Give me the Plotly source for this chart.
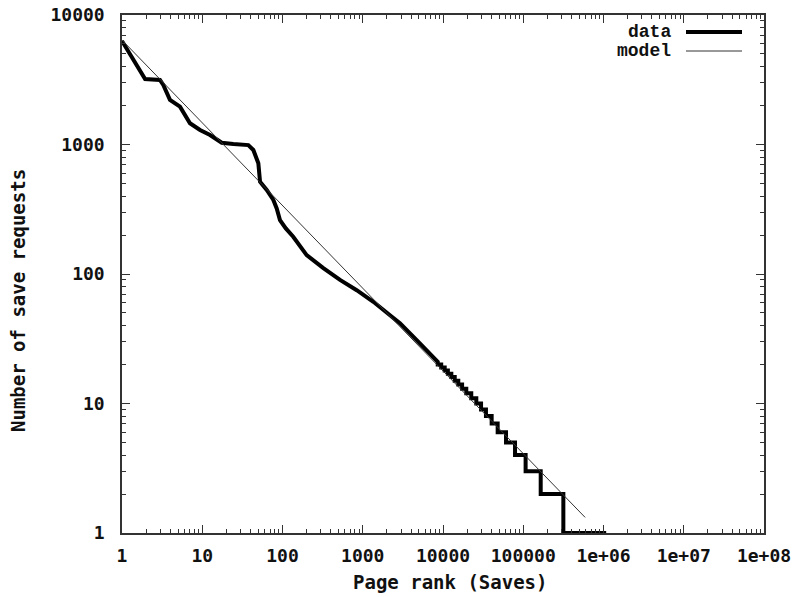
import plotly.graph_objects as go

# ---- data ----
# smooth head of the rank/frequency curve
head_rank = [1, 1.94, 2.97, 3.27, 3.96, 5.28, 7.03, 9.38, 12.5, 17.5, 24.4, 37.5, 43.3, 50,
             52.5, 63.6, 76.9, 84.7, 93, 110, 136, 200, 323, 521, 841, 1355, 2186, 2910,
             4700, 7000, 8600]
head_count = [6300, 3200, 3150, 2880, 2210, 1960, 1460, 1295, 1183, 1032, 1010, 990, 907, 716,
              516, 446, 373, 321, 261, 225, 194, 140, 111, 90, 75, 61, 48, 41.6,
              30.9, 24, 21]
# stepped tail: integer count levels and the rank where each level begins
tail_count = [20, 19, 18, 17, 16, 15, 14, 13, 12, 11, 10, 9, 8, 7, 6, 5, 4, 3, 2, 1]
tail_start = [8600, 9500, 10500, 11500, 12700, 14000, 15500, 17300, 19500, 22500, 26000,
              29800, 34300, 40400, 48000, 61000, 79000, 107000, 165000, 316000]
tail_end_rank = 1080000

# model (straight power-law line) end points
model_rank = [1, 590000]
model_count = [6400, 1.32]

x_tickvals = [1, 10, 100, 1000, 10000, 100000, 1e6, 1e7, 1e8]
x_ticktext = ["1", "10", "100", "1000", "10000", "100000", "1e+06", "1e+07", "1e+08"]
y_tickvals = [1, 10, 100, 1000, 10000]
y_ticktext = ["1", "10", "100", "1000", "10000"]

# ---- build the stepped data path ----
data_x = list(head_rank)
data_y = list(head_count)
ends = tail_start[1:] + [tail_end_rank]
for c, s, e in zip(tail_count, tail_start, ends):
    data_x += [s, e]
    data_y += [c, c]

minor_x = [m * 10 ** d for d in range(0, 8) for m in range(2, 10)]
minor_y = [m * 10 ** d for d in range(0, 4) for m in range(2, 10)]

TICKFONT = dict(family="DejaVu Sans Mono", size=18, color="#111111", weight="bold")
TITLEFONT = dict(family="DejaVu Sans Mono", size=19, color="#111111", weight="bold")
LEGFONT = dict(family="Liberation Mono", size=18, color="#111111", weight="bold")

fig = go.Figure()
fig.add_trace(go.Scatter(x=data_x, y=data_y, mode="lines", name="data",
                         line=dict(color="#000000", width=4), showlegend=False))
fig.add_trace(go.Scatter(x=model_rank, y=model_count, mode="lines", name="model",
                         line=dict(color="#333333", width=1), showlegend=False))

axis_common = dict(type="log", showgrid=False, zeroline=False, showline=True,
                   linecolor="#333333", linewidth=1.5, mirror="allticks",
                   ticks="inside", ticklen=8, tickwidth=1.2, tickcolor="#333333",
                   tickfont=TICKFONT, automargin=False)

fig.update_xaxes(range=[0, 8], tickmode="array", tickvals=x_tickvals, ticktext=x_ticktext,
                 minor=dict(tickmode="array", tickvals=minor_x, ticks="inside", ticklen=4,
                            tickcolor="#333333", tickwidth=1),
                 ticklabelstandoff=6, **axis_common)
fig.update_yaxes(range=[0, 4], tickmode="array", tickvals=y_tickvals, ticktext=y_ticktext,
                 minor=dict(tickmode="array", tickvals=minor_y, ticks="inside", ticklen=4,
                            tickcolor="#333333", tickwidth=1),
                 ticklabelstandoff=12, **axis_common)

W, H = 801, 597
L, R, T, B = 122, 764, 15, 533


def px(x):
    return (x - L) / (R - L)


def py(y):
    return (B - y) / (B - T)


annotations = [
    dict(text="Page rank (Saves)", x=px(450), y=py(582), xref="paper", yref="paper",
         showarrow=False, font=TITLEFONT, xanchor="center", yanchor="middle"),
    dict(text="Number of save requests", x=px(18), y=py(301), xref="paper", yref="paper",
         showarrow=False, font=TITLEFONT, textangle=-90, xanchor="center", yanchor="middle"),
    dict(text="data", x=px(673), y=py(32), xref="paper", yref="paper", showarrow=False,
         font=LEGFONT, xanchor="right", yanchor="middle"),
    dict(text="model", x=px(673), y=py(51), xref="paper", yref="paper", showarrow=False,
         font=LEGFONT, xanchor="right", yanchor="middle"),
]
shapes = [
    dict(type="line", xref="paper", yref="paper", x0=px(686), x1=px(742), y0=py(32), y1=py(32),
         line=dict(color="#000000", width=4)),
    dict(type="line", xref="paper", yref="paper", x0=px(686), x1=px(742), y0=py(51), y1=py(51),
         line=dict(color="#333333", width=1)),
]

fig.update_layout(width=W, height=H, autosize=False,
                  margin=dict(l=L, r=W - R, t=T, b=H - B, pad=0, autoexpand=False),
                  plot_bgcolor="white", paper_bgcolor="white",
                  annotations=annotations, shapes=shapes, showlegend=False)

fig.write_html("out.html", config={"displayModeBar": False},
               post_script="document.body.style.margin='0';")
